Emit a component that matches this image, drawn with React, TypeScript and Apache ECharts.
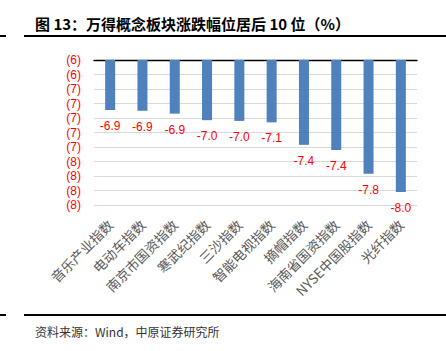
import React, { useEffect, useRef } from "react";
import * as echarts from "echarts";

const categories = [
  "音乐产业指数",
  "电动车指数",
  "南京市国资指数",
  "寒武纪指数",
  "三沙指数",
  "智能电视指数",
  "摘帽指数",
  "海南省国资指数",
  "NYSE中国股指数",
  "光纤指数",
];
const values = [-6.89, -6.9, -6.94, -7.03, -7.04, -7.06, -7.37, -7.44, -7.77, -8.02];
const yMin = -8.2;
const yMax = -6.2;
const yStep = 0.2;
const title = "图 13：万得概念板块涨跌幅位居后 10 位（%）";
const source = "资料来源：Wind，中原证券研究所";

export default function App() {
  const ref = useRef<HTMLDivElement>(null);
  useEffect(() => {
    if (!ref.current) return;
    const chart = echarts.init(ref.current, null, { renderer: "svg" });
    chart.setOption({
      animation: false,
      grid: { left: 94, right: 29, top: 60, bottom: 146, containLabel: false },
      xAxis: [
        {
          type: "category",
          data: categories,
          position: "bottom",
          axisLine: { show: false },
          axisTick: { show: false },
          axisLabel: {
            interval: 0,
            rotate: 45,
            margin: 17,
            fontSize: 13.5,
            fontFamily: "Noto Sans CJK SC",
            color: "#595959",
          },
        },
        {
          type: "category",
          data: categories,
          position: "top",
          axisLine: { show: true, lineStyle: { color: "#000", width: 1.3 } },
          axisTick: { show: false },
          axisLabel: { show: false },
        },
      ],
      yAxis: {
        type: "value",
        min: yMin,
        max: yMax,
        interval: yStep,
        axisLine: { show: false },
        axisTick: { show: false },
        splitLine: { show: true, lineStyle: { color: "#D9D9D9", width: 1 } },
        axisLabel: {
          margin: 13,
          fontSize: 12,
          fontFamily: "Liberation Sans",
          color: "#FF0000",
          formatter: (v: number) => "(" + Math.abs(v).toFixed(0) + ")",
        },
      },
      series: [
        {
          type: "bar",
          data: values,
          xAxisIndex: 0,
          barWidth: 10,
          clip: true,
          itemStyle: { color: "#4F81BD" },
          label: {
            show: true,
            position: "bottom",
            distance: 10,
            fontSize: 12,
            fontFamily: "Liberation Sans",
            color: "#FF0000",
            formatter: (p: any) => (p.value as number).toFixed(1),
          },
        },
      ],
      graphic: [
        {
          type: "text",
          x: 35,
          y: 23,
          style: {
            text: title,
            font: "bold 15px 'Noto Sans CJK SC'",
            fill: "#000",
            verticalAlign: "middle",
          },
        },
        { type: "rect", shape: { x: 24, y: 35, width: 422, height: 2 }, style: { fill: "#000" } },
        { type: "rect", shape: { x: 0, y: 35, width: 6, height: 2 }, style: { fill: "#000" } },
        { type: "rect", shape: { x: 24, y: 314, width: 422, height: 2 }, style: { fill: "#000" } },
        { type: "rect", shape: { x: 0, y: 314, width: 6, height: 2 }, style: { fill: "#000" } },
        {
          type: "text",
          x: 35,
          y: 331,
          style: {
            text: source,
            font: "12px 'Noto Sans CJK SC'",
            fill: "#333",
            verticalAlign: "middle",
          },
        },
      ],
    });
    return () => chart.dispose();
  }, []);
  return (
    <div
      ref={ref}
      style={{ position: "fixed", left: 0, top: 0, width: 446, height: 351, background: "#fff" }}
    />
  );
}
